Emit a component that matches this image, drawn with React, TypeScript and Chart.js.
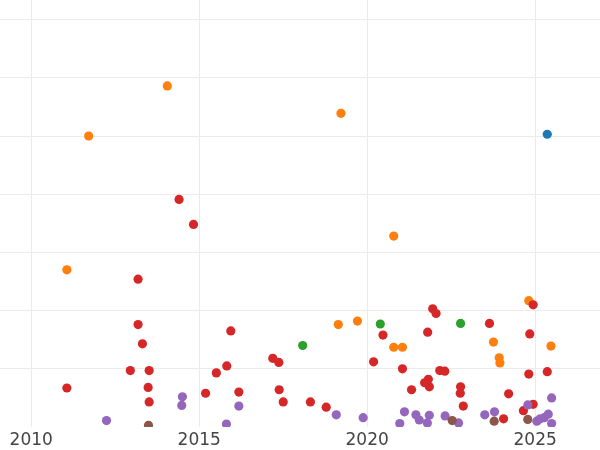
import React, { useEffect, useRef } from "react";
import { Chart, registerables } from "chart.js";

Chart.register(...registerables);

// x: decimal year, y: value (gridline every 10 units)
const blueX = [2025.36];
const blueY = [50.3];

const orangeX = [2014.05, 2011.71, 2019.22, 2020.79, 2011.06, 2019.14, 2019.71, 2020.79, 2021.05, 2023.76, 2023.93, 2023.95, 2024.81, 2025.47];
const orangeY = [58.6, 50.0, 53.9, 32.8, 27.0, 17.6, 18.2, 13.7, 13.7, 14.6, 11.9, 11.0, 21.7, 13.9];

const greenX = [2018.08, 2020.39, 2022.78];
const greenY = [14.0, 17.7, 17.8];

const redX = [
  2014.4, 2014.83, 2013.18, 2013.18, 2013.31, 2012.95, 2013.51, 2011.06, 2013.48, 2013.51,
  2015.19, 2015.51, 2015.82, 2015.94, 2016.18, 2017.19, 2017.37, 2017.38, 2017.5, 2018.31,
  2018.78, 2020.19, 2020.47, 2021.05, 2021.32, 2021.71, 2021.82, 2021.85, 2021.8, 2021.95,
  2022.05, 2022.16, 2022.31, 2022.78, 2022.77, 2022.86, 2023.64, 2024.21, 2024.06, 2024.65,
  2024.94, 2024.84, 2024.81, 2025.36, 2024.94,
];
const redY = [
  39.1, 34.8, 25.4, 17.6, 14.3, 9.7, 9.7, 6.7, 6.8, 4.3,
  5.8, 9.3, 10.5, 16.5, 6.0, 11.8, 11.1, 6.4, 4.3, 4.3,
  3.4, 11.2, 15.8, 10.0, 6.4, 7.6, 8.2, 6.9, 16.3, 20.3,
  19.5, 9.7, 9.6, 6.9, 5.8, 3.6, 17.8, 5.7, 1.4, 2.8,
  21.0, 16.0, 9.1, 9.5, 3.9,
];

const purpleX = [
  2012.24, 2014.5, 2014.48, 2015.81, 2016.18, 2019.08, 2019.88, 2020.97, 2021.11, 2021.45,
  2021.55, 2021.79, 2021.85, 2022.32, 2022.72, 2023.5, 2023.79, 2024.78, 2025.05, 2025.15,
  2025.27, 2025.39, 2025.49, 2025.49,
];
const purpleY = [
  1.1, 5.2, 3.7, 0.5, 3.6, 2.1, 1.6, 0.6, 2.6, 2.1,
  1.2, 0.7, 2.0, 1.9, 0.7, 2.1, 2.6, 3.8, 1.0, 1.4,
  1.6, 2.2, 5.0, 0.6,
];

const brownX = [2013.49, 2022.53, 2023.78, 2024.78];
const brownY = [0.3, 1.1, 1.0, 1.3];

const xTicks = [2010, 2015, 2020, 2025];

const toPoints = (xs: number[], ys: number[]) => xs.map((x, i) => ({ x, y: ys[i] }));

export default function App() {
  const ref = useRef<HTMLCanvasElement | null>(null);

  useEffect(() => {
    document.body.style.margin = "0";
    const canvas = ref.current;
    if (!canvas) return;
    const mk = (label: string, xs: number[], ys: number[], color: string, order: number) => ({
      label,
      data: toPoints(xs, ys),
      backgroundColor: color,
      borderWidth: 0,
      pointRadius: 4.6,
      pointHoverRadius: 4.6,
      order,
    });
    const chart = new Chart(canvas, {
      type: "scatter",
      data: {
        datasets: [
          mk("blue", blueX, blueY, "#1f77b4", 6),
          mk("orange", orangeX, orangeY, "#ff7f0e", 5),
          mk("green", greenX, greenY, "#2ca02c", 4),
          mk("red", redX, redY, "#d62728", 3),
          mk("purple", purpleX, purpleY, "#9467bd", 2),
          mk("brown", brownX, brownY, "#8c564b", 1),
        ],
      },
      options: {
        animation: false,
        responsive: false,
        maintainAspectRatio: false,
        layout: { padding: 0, autoPadding: false },
        plugins: { legend: { display: false }, tooltip: { enabled: false } },
        scales: {
          x: {
            type: "linear",
            min: 2009.07,
            max: 2026.93,
            border: { display: false },
            grid: { color: "#ebebeb", lineWidth: 1, drawTicks: false },
            afterBuildTicks: (scale: any) => {
              scale.ticks = xTicks.map((v) => ({ value: v }));
            },
            afterFit: (scale: any) => {
              scale.height = 23;
            },
            ticks: {
              padding: 3,
              color: "#444444",
              font: { family: "DejaVu Sans", size: 17 },
              maxRotation: 0,
              callback: (v: any) => String(v),
            },
          },
          y: {
            type: "linear",
            min: 0,
            max: 73.37,
            border: { display: false },
            grid: { color: "#ebebeb", lineWidth: 1, drawTicks: false },
            afterBuildTicks: (scale: any) => {
              scale.ticks = [10, 20, 30, 40, 50, 60, 70].map((v) => ({ value: v }));
            },
            afterFit: (scale: any) => {
              scale.width = 0;
            },
            ticks: { display: false },
          },
        },
      },
    });
    return () => chart.destroy();
  }, []);

  return (
    <div style={{ position: "absolute", left: 0, top: 0, width: 600, height: 450 }}>
      <canvas ref={ref} width={600} height={450} style={{ width: 600, height: 450, display: "block" }} />
    </div>
  );
}
